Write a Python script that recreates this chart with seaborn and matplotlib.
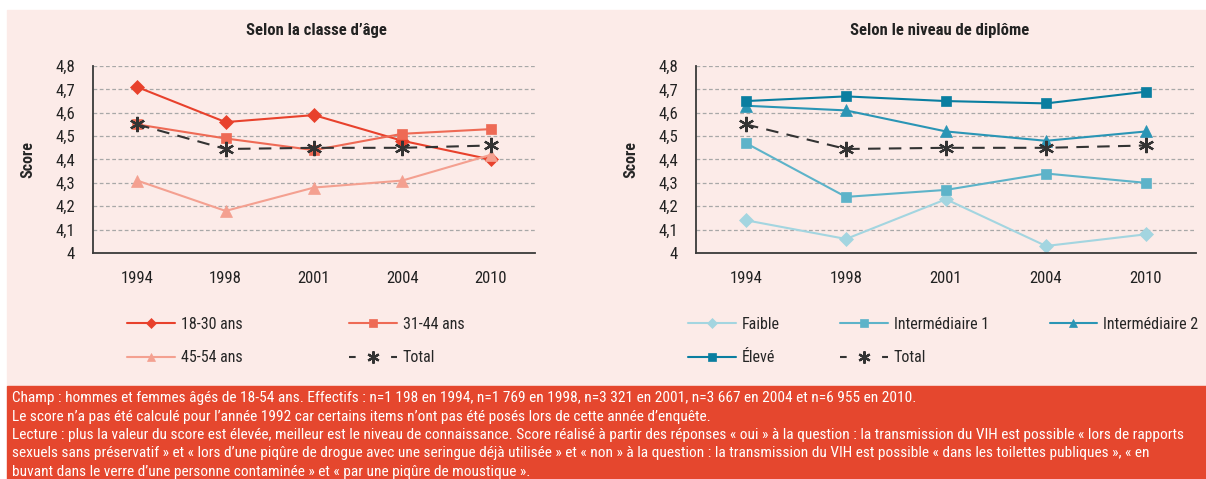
import matplotlib
matplotlib.use("Agg")
import matplotlib.pyplot as plt
import seaborn as sns
from matplotlib.patches import Rectangle
from matplotlib.ticker import FuncFormatter
from matplotlib import font_manager

# data
years = ["1994", "1998", "2001", "2004", "2010"]

age_18_30 = [4.71, 4.56, 4.59, 4.48, 4.40]
age_31_44 = [4.55, 4.49, 4.44, 4.51, 4.53]
age_45_54 = [4.31, 4.18, 4.28, 4.31, 4.42]
total = [4.55, 4.445, 4.45, 4.45, 4.46]

dip_faible = [4.14, 4.06, 4.23, 4.03, 4.08]
dip_inter1 = [4.47, 4.24, 4.27, 4.34, 4.30]
dip_inter2 = [4.63, 4.61, 4.52, 4.48, 4.52]
dip_eleve = [4.65, 4.67, 4.65, 4.64, 4.69]

yticks = [4.0, 4.1, 4.2, 4.3, 4.4, 4.5, 4.6, 4.7, 4.8]

footer = [
    "Champ : hommes et femmes âgés de 18-54 ans. Effectifs : n=1 198 en 1994, n=1 769 en 1998, n=3 321 en 2001, n=3 667 en 2004 et n=6 955 en 2010.",
    "Le score n’a pas été calculé pour l’année 1992 car certains items n’ont pas été posés lors de cette année d’enquête.",
    "Lecture : plus la valeur du score est élevée, meilleur est le niveau de connaissance. Score réalisé à partir des réponses « oui » à la question : la transmission du VIH est possible « lors de rapports",
    "sexuels sans préservatif » et « lors d’une piqûre de drogue avec une seringue déjà utilisée » et « non » à la question : la transmission du VIH est possible « dans les toilettes publiques », « en",
    "buvant dans le verre d’une personne contaminée » et « par une piqûre de moustique ».",
]

sns.set_style("white")
names = {f.name for f in font_manager.fontManager.ttflist}
fams = [f for f in ["Liberation Sans Narrow", "DejaVu Sans Condensed", "Roboto Condensed",
                    "Open Sans Condensed", "Liberation Sans"] if f in names]
plt.rcParams["font.family"] = fams[:1] + ["DejaVu Sans"]

W, H = 1206, 479
fig = plt.figure(figsize=(W / 100, H / 100), dpi=100)
fig.patch.set_facecolor("white")

pink = "#fcebe8"
red = "#e5472e"
fig.add_artist(Rectangle((7 / W, (H - 386) / H), 1, (386 - 10) / H,
                         transform=fig.transFigure, color=pink, zorder=-10))
fig.add_artist(Rectangle((7 / W, 0), 1, (H - 386) / H,
                         transform=fig.transFigure, color=red, zorder=-10))

total_marker = (6, 2, 0)


def style_axes(ax):
    ax.set_facecolor(pink)
    ax.set_ylim(4, 4.8)
    ax.set_xlim(-0.5, 4.5)
    ax.set_yticks(yticks)
    ax.yaxis.set_major_formatter(FuncFormatter(
        lambda v, p: "4" if abs(v - 4) < 1e-9 else f"{v:.1f}".replace(".", ",")))
    for v in yticks[1:]:
        ax.axhline(v, color="#a8a8a8", linestyle=(0, (3, 2)), linewidth=0.9, zorder=0)
    for s in ["top", "right"]:
        ax.spines[s].set_visible(False)
    for s in ["left", "bottom"]:
        ax.spines[s].set_color("#3a3a3a")
        ax.spines[s].set_linewidth(1.3)
    ax.tick_params(axis="both", length=0, labelsize=12, colors="#222222")
    ax.tick_params(axis="y", pad=13)
    ax.tick_params(axis="x", pad=13)
    ax.set_xlabel("")
    ax.set_ylabel("Score", fontsize=11.5, fontweight="bold", labelpad=14)


def draw(ax, vals, color, marker, label, ms=7, dashed=False):
    sns.lineplot(x=years, y=vals, ax=ax, color=color, marker=marker,
                 markersize=ms, linewidth=1.5, label=label,
                 markeredgecolor=color, markeredgewidth=1.6 if dashed else 0.5,
                 linestyle=(0, (6, 4)) if dashed else "-", sort=False)


def add_legend(ax, order, ncol, x, colsp):
    h, l = ax.get_legend_handles_labels()
    leg = ax.legend([h[i] for i in order], [l[i] for i in order], ncol=ncol,
                    loc="upper left", bbox_to_anchor=(x / W, 1 - 317 / H),
                    bbox_transform=fig.transFigure, frameon=False, borderpad=0,
                    borderaxespad=0, fontsize=11.5, handlelength=3.0,
                    handletextpad=0.35, markerscale=0.8, columnspacing=colsp,
                    labelspacing=1.15)
    # total entry: short dash, marker, short dash
    for line, lab in zip(leg.get_lines(), [l[i] for i in order]):
        if lab == "Total":
            line.set_linestyle((0, (3.2, 17)))


# left panel
ax1 = fig.add_axes([93 / W, (H - 253) / H, 442 / W, 187 / H])
draw(ax1, age_18_30, "#e8412c", "D", "18-30 ans", ms=7)
draw(ax1, age_31_44, "#ee6a55", "s", "31-44 ans", ms=7.5)
draw(ax1, age_45_54, "#f4a090", "^", "45-54 ans", ms=8)
draw(ax1, total, "#333333", total_marker, "Total", ms=11, dashed=True)
style_axes(ax1)
add_legend(ax1, [0, 2, 1, 3], 2, 127, 6.7)

# right panel
ax2 = fig.add_axes([696 / W, (H - 253) / H, 500 / W, 187 / H])
draw(ax2, dip_faible, "#a3d5e0", "D", "Faible", ms=7)
draw(ax2, dip_inter1, "#5db3c9", "s", "Intermédiaire 1", ms=7.5)
draw(ax2, dip_inter2, "#2a95b5", "^", "Intermédiaire 2", ms=8)
draw(ax2, dip_eleve, "#0a7ea0", "s", "Élevé", ms=7.5)
draw(ax2, total, "#333333", total_marker, "Total", ms=11, dashed=True)
style_axes(ax2)
add_legend(ax2, [0, 3, 1, 4, 2], 3, 688, 3.8)

fig.text(316 / W, 1 - 30 / H, "Selon la classe d’âge", ha="center", va="center",
         fontsize=12, fontweight="bold", color="#222222")
fig.text(940 / W, 1 - 30 / H, "Selon le niveau de diplôme", ha="center", va="center",
         fontsize=12, fontweight="bold", color="#222222")

for i, line in enumerate(footer):
    fig.text(12 / W, 1 - (398 + i * 18.5) / H, line, ha="left", va="center",
             fontsize=11.1, color="white")

fig.savefig("out.png", dpi=100, facecolor="white")
